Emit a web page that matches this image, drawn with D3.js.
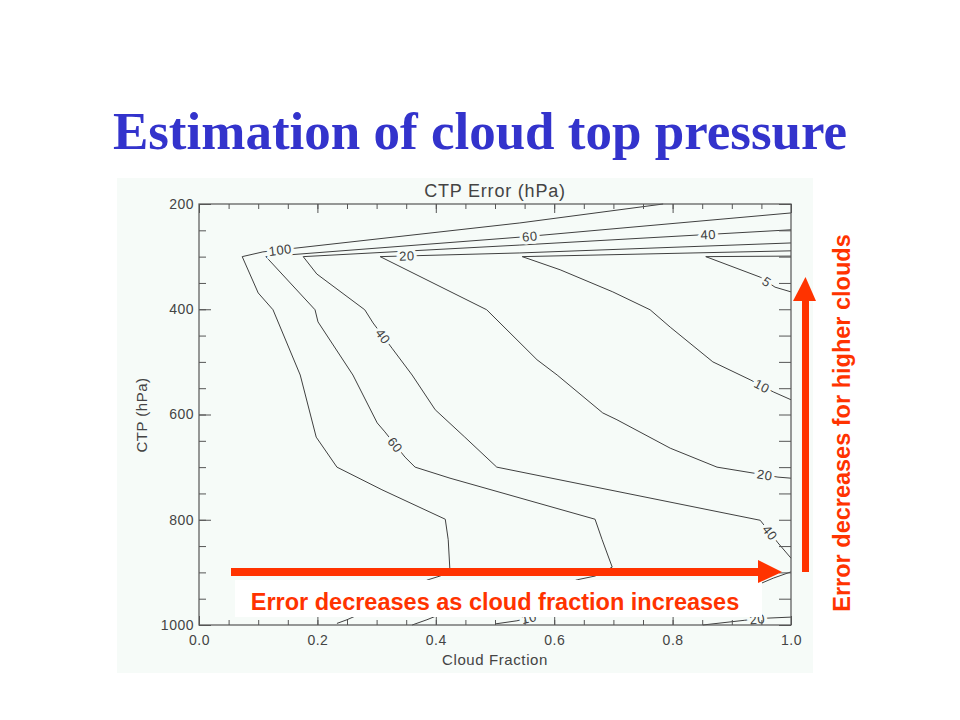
<!DOCTYPE html>
<html>
<head>
<meta charset="utf-8">
<script src="https://cdn.jsdelivr.net/npm/d3@7"></script>
<style>
  body { margin: 0; background: #fff; }
  svg { display: block; }
</style>
</head>
<body>
<div id="chart"></div>
<script>
// CTP error contours (hPa), each as [cloud fraction, CTP in hPa] points
var line100 = [[0.784, 200], [0.542, 236], [0.162, 284], [0.108, 291], [0.073, 300],
  [0.100, 369], [0.125, 401], [0.171, 525], [0.198, 643], [0.233, 700], [0.309, 743],
  [0.416, 799], [0.421, 838], [0.424, 899], [0.407, 907], [0.387, 914], [0.340, 937]];
var line60 = [[1.0, 217], [0.542, 263], [0.113, 300], [0.196, 401], [0.201, 424],
  [0.260, 525], [0.301, 616], [0.314, 633], [0.348, 681], [0.365, 700], [0.424, 721],
  [0.669, 799], [0.681, 838], [0.698, 890], [0.669, 907], [0.639, 914], [0.593, 933]];
var line40 = [[1.0, 249], [0.542, 278], [0.176, 300], [0.199, 333], [0.280, 401],
  [0.294, 426], [0.326, 474], [0.360, 525], [0.399, 591], [0.449, 643], [0.503, 700],
  [0.948, 801], [0.978, 844], [1.0, 873]];
var line20 = [[1.0, 274], [0.542, 293], [0.306, 300], [0.486, 401], [0.571, 496],
  [0.605, 525], [0.682, 597], [0.706, 610], [0.796, 664], [0.875, 700], [0.978, 719],
  [1.0, 721]];
var line10 = [[1.0, 289], [0.546, 300], [0.610, 325], [0.699, 367], [0.762, 401],
  [0.796, 434], [0.868, 500], [0.931, 534], [0.970, 557], [1.0, 572]];
var line5 = [[1.0, 299], [0.856, 300], [0.948, 339], [0.973, 358], [1.0, 367]];

// bits near the surface, mostly hidden behind the text box
var lineLowA = [[0.233, 997], [0.250, 990], [0.300, 965]];
var lineLowB = [[0.360, 1000], [0.385, 990], [0.440, 965]];
var lineLowC = [[0.500, 998], [0.537, 992], [0.620, 970]];
var lineLowD = [[0.851, 1000], [0.922, 991], [0.959, 987], [1.0, 985]];
var lineLowE = [[1.0, 899], [0.970, 911], [0.920, 935]];

var contourLines = [line100, line60, line40, line20, line10, line5,
  lineLowA, lineLowB, lineLowC, lineLowD, lineLowE];

// contour labels: text, line it sits on, approx place
var labelText = ["100", "60", "40", "20", "40", "60", "5", "10", "20", "40", "20", "10"];
var labelLine = [line100, line60, line40, line20, line40, line60, line5, line10, line20, line40, lineLowD, lineLowC];
var labelCF = [0.137, 0.559, 0.860, 0.351, 0.309, 0.331, 0.959, 0.951, 0.956, 0.965, 0.943, 0.557];
var labelP = [286, 265, 258, 298, 453, 658, 348, 546, 712, 824, 989, 985];

var xTicks = [0.0, 0.2, 0.4, 0.6, 0.8, 1.0];
var yTicks = [200, 400, 600, 800, 1000];
var xMinor = d3.range(0, 1.0001, 0.05);
var yMinor = d3.range(200, 1000.1, 50);

var red = "#ff3300";
var panelBg = "#f6fbf8";
var ink = "#404040";

var svg = d3.select("#chart").append("svg")
  .attr("width", 960)
  .attr("height", 720);

// slide title
svg.append("text")
  .attr("x", 480).attr("y", 149)
  .attr("text-anchor", "middle")
  .style("font-family", "'Liberation Serif', 'Times New Roman', serif")
  .style("font-weight", "bold")
  .style("font-size", "53px")
  .attr("fill", "#3333cc")
  .text("Estimation of cloud top pressure");

// plot panel
svg.append("rect")
  .attr("x", 117).attr("y", 178)
  .attr("width", 696).attr("height", 495)
  .attr("fill", panelBg);

var x = d3.scaleLinear().domain([0, 1]).range([199, 791]);
var y = d3.scaleLinear().domain([200, 1000]).range([204, 625]);

var line = d3.line()
  .x(function(d) { return x(d[0]); })
  .y(function(d) { return y(d[1]); });

svg.append("g")
  .selectAll("path")
  .data(contourLines)
  .enter()
  .append("path")
    .attr("d", line)
    .attr("fill", "none")
    .attr("stroke", ink)
    .attr("stroke-width", 1);

// put each label on its line, turned along the nearest segment
function placeLabel(i) {
  var px = x(labelCF[i]), py = y(labelP[i]);
  var pts = labelLine[i].map(function(d) { return [x(d[0]), y(d[1])]; });
  var best = null;
  for (var k = 0; k < pts.length - 1; k++) {
    var a = pts[k], b = pts[k + 1];
    var dx = b[0] - a[0], dy = b[1] - a[1];
    var t = ((px - a[0]) * dx + (py - a[1]) * dy) / (dx * dx + dy * dy);
    t = Math.max(0, Math.min(1, t));
    var qx = a[0] + t * dx, qy = a[1] + t * dy;
    var dist = Math.hypot(px - qx, py - qy);
    if (!best || dist < best.dist) {
      if (dx < 0) { dx = -dx; dy = -dy; }
      best = {x: qx, y: qy, dist: dist, angle: Math.atan2(dy, dx) * 180 / Math.PI};
    }
  }
  return best;
}

var plotFont = "'Liberation Sans', Arial, sans-serif";

svg.append("g")
  .selectAll("text")
  .data(labelText)
  .enter()
  .append("text")
    .each(function(d, i) {
      var p = placeLabel(i);
      d3.select(this)
        .attr("transform", "translate(" + p.x + "," + p.y + ") rotate(" + p.angle + ")");
    })
    .attr("text-anchor", "middle")
    .attr("dy", "0.36em")
    .style("font-family", plotFont)
    .style("font-size", "13px")
    .style("letter-spacing", "0.5px")
    .attr("fill", ink)
    .attr("stroke", panelBg)
    .attr("stroke-width", 6)
    .attr("paint-order", "stroke")
    .text(function(d) { return d; });

// axes
function styleAxis(g) {
  g.select(".domain").remove();
  g.selectAll("line").attr("stroke", "#555");
  g.selectAll("text")
    .attr("fill", "#444")
    .style("font-family", plotFont)
    .style("font-size", "14px")
    .style("letter-spacing", "0.5px");
}

svg.append("g")
  .attr("transform", "translate(0,625)")
  .call(d3.axisBottom(x).tickValues(xMinor).tickSize(-5).tickFormat(""))
  .call(styleAxis);
svg.append("g")
  .attr("transform", "translate(0,625)")
  .call(d3.axisBottom(x).tickValues(xTicks).tickSize(-9).tickPadding(10).tickFormat(d3.format(".1f")))
  .call(styleAxis);

svg.append("g")
  .attr("transform", "translate(0,204)")
  .call(d3.axisTop(x).tickValues(xMinor).tickSize(-5).tickFormat(""))
  .call(styleAxis);
svg.append("g")
  .attr("transform", "translate(0,204)")
  .call(d3.axisTop(x).tickValues(xTicks).tickSize(-9).tickFormat(""))
  .call(styleAxis);

svg.append("g")
  .attr("transform", "translate(199,0)")
  .call(d3.axisLeft(y).tickValues(yMinor).tickSize(-7).tickFormat(""))
  .call(styleAxis);
svg.append("g")
  .attr("transform", "translate(199,0)")
  .call(d3.axisLeft(y).tickValues(yTicks).tickSize(-12).tickPadding(5).tickFormat(d3.format("d")))
  .call(styleAxis);

svg.append("g")
  .attr("transform", "translate(791,0)")
  .call(d3.axisRight(y).tickValues(yMinor).tickSize(-12).tickFormat(""))
  .call(styleAxis);

svg.append("rect")
  .attr("x", x(0)).attr("y", y(200))
  .attr("width", x(1) - x(0)).attr("height", y(1000) - y(200))
  .attr("fill", "none")
  .attr("stroke", "#555")
  .attr("stroke-width", 1.2);

svg.append("text")
  .attr("x", 495).attr("y", 197)
  .attr("text-anchor", "middle")
  .style("font-family", plotFont).style("font-size", "18px")
  .style("letter-spacing", "0.8px")
  .attr("fill", "#444")
  .text("CTP Error (hPa)");

svg.append("text")
  .attr("x", 495).attr("y", 665)
  .attr("text-anchor", "middle")
  .style("font-family", plotFont).style("font-size", "15px")
  .style("letter-spacing", "0.6px")
  .attr("fill", "#444")
  .text("Cloud Fraction");

svg.append("text")
  .attr("transform", "translate(147,415) rotate(-90)")
  .attr("text-anchor", "middle")
  .style("font-family", plotFont).style("font-size", "15px")
  .style("letter-spacing", "0.5px")
  .attr("fill", "#444")
  .text("CTP (hPa)");

// annotations
svg.append("rect")
  .attr("x", 235).attr("y", 580)
  .attr("width", 527).attr("height", 37)
  .attr("fill", "#fff");

svg.append("text")
  .attr("x", 495).attr("y", 610)
  .attr("text-anchor", "middle")
  .style("font-family", plotFont).style("font-weight", "bold").style("font-size", "23.5px")
  .attr("fill", red)
  .text("Error decreases as cloud fraction increases");

// horizontal arrow
svg.append("rect")
  .attr("x", 231).attr("y", 568)
  .attr("width", 530).attr("height", 8)
  .attr("fill", red);
svg.append("path")
  .attr("d", "M758,560L782,572L758,583Z")
  .attr("fill", red);

// vertical arrow
svg.append("rect")
  .attr("x", 802).attr("y", 298)
  .attr("width", 7).attr("height", 274)
  .attr("fill", red);
svg.append("path")
  .attr("d", "M793,301L805.5,277L816,301Z")
  .attr("fill", red);

svg.append("text")
  .attr("transform", "translate(850,423) rotate(-90)")
  .attr("text-anchor", "middle")
  .style("font-family", plotFont).style("font-weight", "bold").style("font-size", "23.5px")
  .attr("fill", red)
  .text("Error decreases for higher clouds");
</script>
</body>
</html>
